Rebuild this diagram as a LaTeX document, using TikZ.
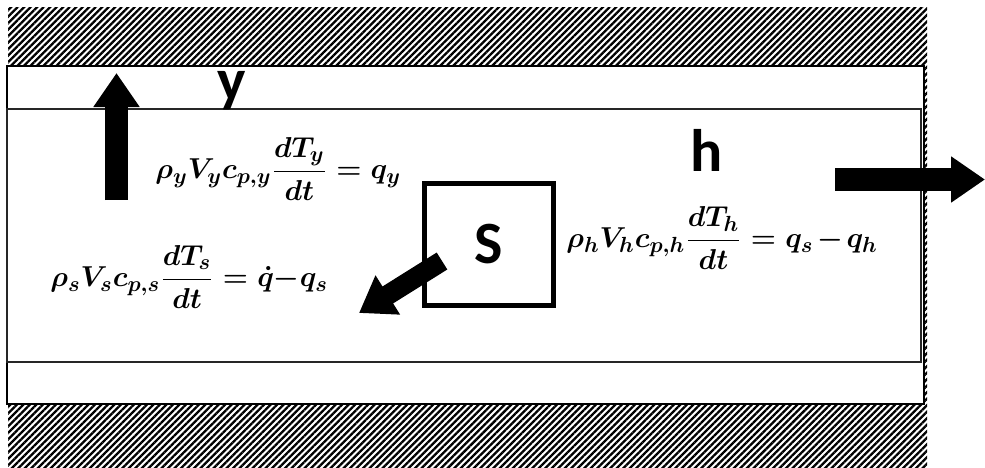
\documentclass[tikz,border=0pt]{standalone}
\usepackage{amsmath}
\usepackage{fontspec}
\setsansfont{Carlito}
\usepackage{tikz}
\usetikzlibrary{arrows.meta,patterns.meta,positioning}
\medmuskip=2mu

\begin{document}
\begin{tikzpicture}[x=0.5pt,y=-0.5pt,
  wall/.style={pattern={Lines[angle=45,distance=2.3pt,line width=1.15pt]}},
  lay/.style={draw=black,line width=1pt,fill=white},
  eq/.style={inner sep=0pt,anchor=west,font=\fontsize{15}{17}\selectfont\boldmath},
  lbl/.style={inner sep=0pt,font=\sffamily\bfseries\fontsize{30}{30}\selectfont},
  sbox/.style={draw,line width=2.5pt,minimum width=64.5pt,minimum height=61pt,
               inner sep=0pt},
  fl/.style={line width=11.5pt,-{Triangle[length=17pt,width=22pt]}}]
\useasboundingbox (0,0) rectangle (985,467);
% walls and layers
\fill[wall] (8,7) rectangle (927,467);
\draw[lay] (7,66) rectangle (924,404);
\draw[lay,draw=black!85] (7,109) rectangle (921,362);
% source block
\node[sbox,lbl] (s) at (489,244) {S};
\node[lbl] (ly) at (232,91) {y};
\node[lbl] (lh) at (707,150) {h};
% balances
\node[eq] (ey) at (155,169) {$\rho_yV_yc_{p,y}\dfrac{dT_y}{dt}=q_y$};
\node[eq] (es) at (50,277) {$\rho_sV_sc_{p,s}\dfrac{dT_s}{dt}=\dot{q}{-}q_s$};
\node[eq] (eh) at (566,238) {$\rho_hV_hc_{p,h}\dfrac{dT_h}{dt}=q_s-q_h$};
% heat flows
\coordinate (y0) at (116.5,200); \coordinate (y1) at (116.5,73);
\coordinate (h0) at (835,179.5); \coordinate (h1) at (985,179.5);
\coordinate (s0) at (442,261);   \coordinate (s1) at (359,313);
\draw[fl] (y0)--(y1);
\draw[fl] (h0)--(h1);
\draw[fl,line width=10pt] (s0)--(s1);
\end{tikzpicture}
\end{document}
